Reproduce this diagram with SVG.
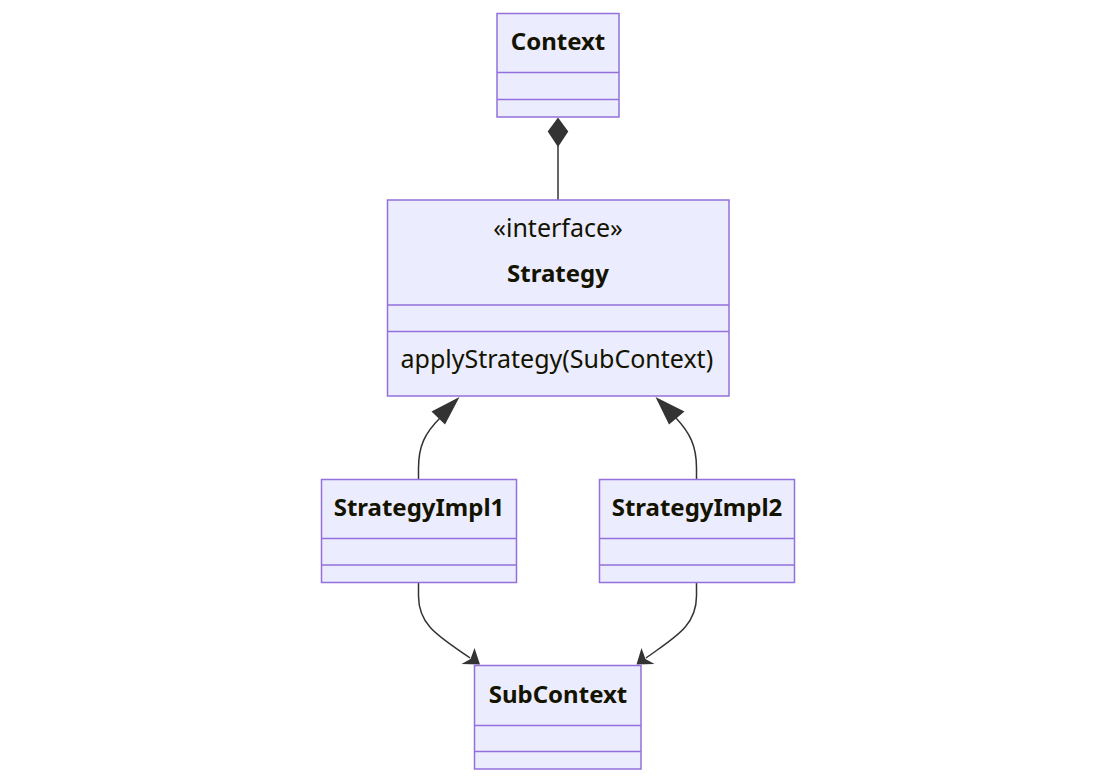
<svg xmlns="http://www.w3.org/2000/svg" width="1116" height="783" viewBox="0 0 1116 783">
  <style>
    .box { fill: #ECECFF; stroke: #9370DB; stroke-width: 1.5; }
    .div { stroke: #9370DB; stroke-width: 1.5; fill: none; }
    .t { font-family: "Noto Sans", "Open Sans", sans-serif; font-size: 25px; fill: #131300; text-anchor: middle; }
    .b { font-weight: bold; font-size: 24px; }
    .m { text-anchor: start; }
    .edge { fill: none; stroke: #333333; stroke-width: 1.5; }
    .head { fill: #333333; stroke: none; }
  </style>
  <rect width="1116" height="783" fill="#ffffff"/>

  <g id="edges">
    <!-- Context composes Strategy -->
    <path class="edge" d="M558,146 L558,200"/>
    <polygon class="head" points="558,117.5 568.3,131.5 558,147 547.7,131.5"/>
    <!-- realizations -->
    <path class="edge" d="M418.5,479 L418.5,468 C418.5,446 425,433 440,418"/>
    <polygon class="head" points="459.5,397 445,424.5 431.5,411.5"/>
    <path class="edge" d="M696.5,479 L696.5,468 C696.5,446 690,433 676,418"/>
    <polygon class="head" points="655.5,397 684.5,411.5 669,424.5"/>
    <!-- dependencies on SubContext -->
    <path class="edge" d="M418.5,582 L418.5,596 C418.5,626 440,637 470,658"/>
    <path class="head" d="M480,664.5 L461.5,664 L470.5,659 L474.5,648 Z"/>
    <path class="edge" d="M696.5,582 L696.5,596 C696.5,626 675,637 646,658"/>
    <path class="head" d="M636.5,664.5 L641.5,648 L645.5,659 L654.5,664 Z"/>
  </g>

  <g id="Context">
    <rect class="box" x="497" y="13.5" width="122" height="103.5"/>
    <line class="div" x1="497" y1="72.5" x2="619" y2="72.5"/>
    <line class="div" x1="497" y1="99.5" x2="619" y2="99.5"/>
    <text class="t b" x="558" y="50">Context</text>
  </g>

  <g id="Strategy">
    <rect class="box" x="387.5" y="200" width="341.5" height="196"/>
    <line class="div" x1="387.5" y1="305" x2="729" y2="305"/>
    <line class="div" x1="387.5" y1="331.5" x2="729" y2="331.5"/>
    <text class="t" x="558" y="237">«interface»</text>
    <text class="t b" x="558" y="282">Strategy</text>
    <text class="t m" x="400.5" y="368">applyStrategy(SubContext)</text>
  </g>

  <g id="StrategyImpl1">
    <rect class="box" x="321.5" y="479.5" width="195" height="103"/>
    <line class="div" x1="321.5" y1="538.5" x2="516.5" y2="538.5"/>
    <line class="div" x1="321.5" y1="565" x2="516.5" y2="565"/>
    <text class="t b" x="419" y="516">StrategyImpl1</text>
  </g>

  <g id="StrategyImpl2">
    <rect class="box" x="599.5" y="479.5" width="195" height="103"/>
    <line class="div" x1="599.5" y1="538.5" x2="794.5" y2="538.5"/>
    <line class="div" x1="599.5" y1="565" x2="794.5" y2="565"/>
    <text class="t b" x="697" y="516">StrategyImpl2</text>
  </g>

  <g id="SubContext">
    <rect class="box" x="474.5" y="665.5" width="166.5" height="103.5"/>
    <line class="div" x1="474.5" y1="725.5" x2="641" y2="725.5"/>
    <line class="div" x1="474.5" y1="751.5" x2="641" y2="751.5"/>
    <text class="t b" x="558" y="702.5">SubContext</text>
  </g>
</svg>
